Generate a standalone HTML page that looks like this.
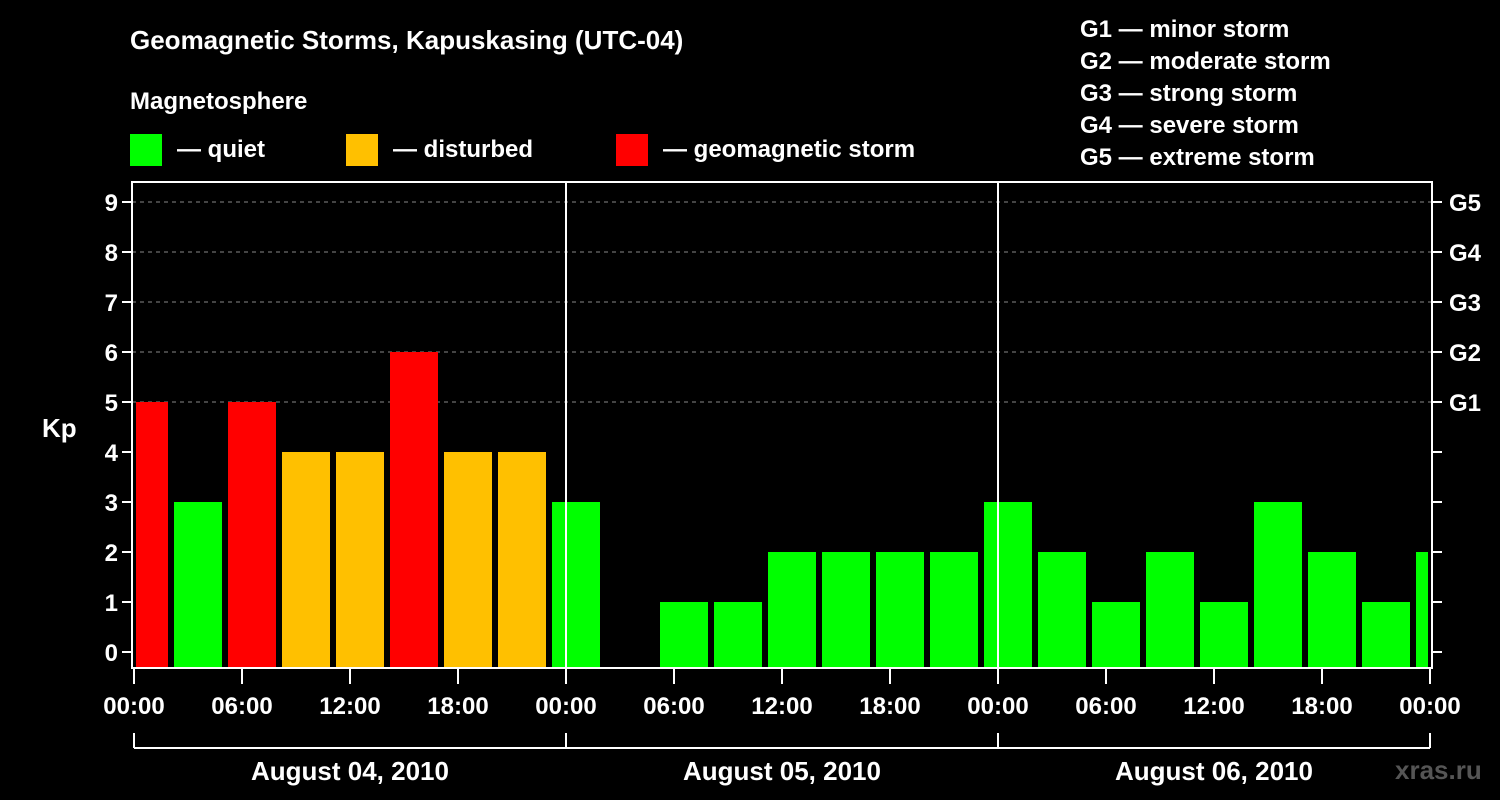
<!DOCTYPE html>
<html><head><meta charset="utf-8"><style>
body{margin:0;background:#000;width:1500px;height:800px;overflow:hidden}
svg{display:block;font-family:"Liberation Sans",sans-serif;font-weight:bold}
</style></head><body>
<svg id="c" width="1500" height="800" xmlns="http://www.w3.org/2000/svg">
<text x="130" y="49" fill="#fff" font-size="26">Geomagnetic Storms, Kapuskasing (UTC-04)</text>
<text x="130" y="109" fill="#fff" font-size="24">Magnetosphere</text>
<g><rect x="130" y="134" width="32" height="32" fill="#00ff00"/><text x="177" y="157" fill="#fff" font-size="24">— quiet</text></g>
<g><rect x="346" y="134" width="32" height="32" fill="#ffc000"/><text x="393" y="157" fill="#fff" font-size="24">— disturbed</text></g>
<g><rect x="616" y="134" width="32" height="32" fill="#ff0000"/><text x="663" y="157" fill="#fff" font-size="24">— geomagnetic storm</text></g>
<g fill="#fff" font-size="24">
<text x="1080" y="37">G1 — minor storm</text>
<text x="1080" y="69">G2 — moderate storm</text>
<text x="1080" y="101">G3 — strong storm</text>
<text x="1080" y="133">G4 — severe storm</text>
<text x="1080" y="165">G5 — extreme storm</text>
</g>
<text x="42" y="437" fill="#fff" font-size="26">Kp</text>
<text x="1395" y="779" fill="#555" font-size="26">xras.ru</text>
<g id="g"></g>
</svg>
<script>
const kpValues=[5,3,5,4,4,6,4,4,3,null,1,1,2,2,2,2,3,2,1,2,1,3,2,1,2];
const kpTicks=[0,1,2,3,4,5,6,7,8,9];
const gLabels=["G1","G2","G3","G4","G5"];
const timeLabels=["00:00","06:00","12:00","18:00","00:00","06:00","12:00","18:00","00:00","06:00","12:00","18:00","00:00"];
const dayLabels=["August 04, 2010","August 05, 2010","August 06, 2010"];
const L=132,R=1432,T=182,B=668;
const X=h=>134+h*18, Y=k=>652-k*50;
const NS="http://www.w3.org/2000/svg",g=document.getElementById('g');
function mk(t,a,txt){const e=document.createElementNS(NS,t);for(const k in a)e.setAttribute(k,a[k]);if(txt!=null)e.textContent=txt;g.appendChild(e);return e;}
// gridlines
kpTicks.forEach(k=>{if(k>=5){const l=mk('line',{x1:L,x2:R,y1:Y(k),y2:Y(k),stroke:'#888','stroke-dasharray':'4,4','stroke-width':1});

}});
// bars
kpValues.forEach((v,i)=>{if(v==null)return;let x0=X(i*3)-14,x1=x0+48;x0=Math.max(x0,L+4);x1=Math.min(x1,R-4);
const c=v>=5?'#ff0000':v>=4?'#ffc000':'#00ff00';
const r=mk('rect',{x:x0,y:Y(v),width:x1-x0,height:B-Y(v),fill:c});

});
// day separators
[24,48].forEach(h=>{const l=mk('line',{x1:X(h),x2:X(h),y1:T,y2:B,stroke:'#fff','stroke-width':2});

});
// frame
const f=mk('rect',{x:L,y:T,width:R-L,height:B-T,fill:'none',stroke:'#fff','stroke-width':2});


// y ticks
kpTicks.forEach(k=>{mk('line',{x1:L-10,x2:L,y1:Y(k),y2:Y(k),stroke:'#fff','stroke-width':2});
mk('line',{x1:R,x2:R+10,y1:Y(k),y2:Y(k),stroke:'#fff','stroke-width':2});
const t=mk('text',{x:L-14,y:Y(k)+9,fill:'#fff','font-size':24,'text-anchor':'end'},String(k));

});
gLabels.forEach((s,i)=>{const t=mk('text',{x:R+17,y:Y(5+i)+9,fill:'#fff','font-size':24},s);

});
// x ticks
timeLabels.forEach((s,i)=>{const x=X(i*6);mk('line',{x1:x,x2:x,y1:B,y2:B+16,stroke:'#fff','stroke-width':2});
const t=mk('text',{x:x,y:714,fill:'#fff','font-size':24,'text-anchor':'middle'},s);

});
// day bracket
mk('line',{x1:X(0),x2:X(72),y1:748,y2:748,stroke:'#fff','stroke-width':2});
[0,24,48,72].forEach(h=>mk('line',{x1:X(h),x2:X(h),y1:733,y2:748,stroke:'#fff','stroke-width':2}));
dayLabels.forEach((s,i)=>{const t=mk('text',{x:X(i*24+12),y:780,fill:'#fff','font-size':26,'text-anchor':'middle'},s);

});
</script>
</body></html>
